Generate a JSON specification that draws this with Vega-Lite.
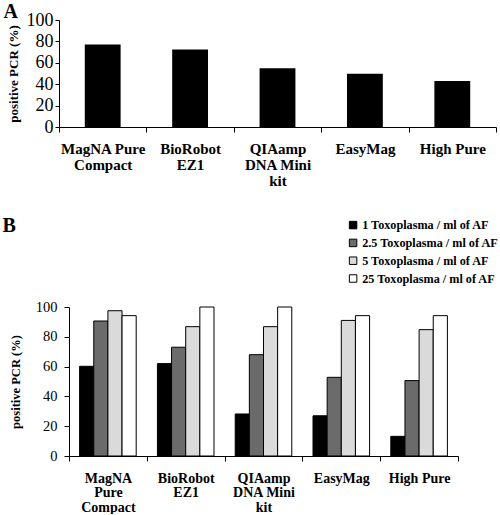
{
  "$schema": "https://vega.github.io/schema/vega-lite/v6.json",
  "background": "white",
  "padding": {"left": 2, "top": 2, "right": 0, "bottom": 0},
  "spacing": 28,
  "resolve": {"legend": {"color": "independent"}, "scale": {"color": "independent"}},
  "config": {
    "font": "Liberation Serif",
    "view": {"stroke": null},
    "axis": {"domainColor": "black", "tickColor": "black", "labelColor": "black", "titleColor": "black", "grid": false, "domainWidth": 1, "tickWidth": 1, "labelFont": "Liberation Serif", "titleFont": "Liberation Serif"},
    "title": {"font": "Liberation Serif", "fontSize": 20, "fontWeight": "bold", "anchor": "start", "color": "black"},
    "legend": {"labelFont": "Liberation Serif"}
  },
  "vconcat": [
    {
      "title": {"text": "A", "offset": -11, "dx": -4},
      "width": 437,
      "height": 107,
      "data": {"values": [
        {"kit": "MagNA Pure|Compact", "pct": 77.2},
        {"kit": "BioRobot|EZ1", "pct": 72.5},
        {"kit": "QIAamp|DNA Mini|kit", "pct": 55},
        {"kit": "EasyMag", "pct": 49.7},
        {"kit": "High Pure", "pct": 43.1}
      ]},
      "mark": {"type": "bar", "color": "black", "width": {"band": 0.41}},
      "encoding": {
        "x": {"field": "kit", "type": "nominal", "sort": null,
          "scale": {"paddingInner": 0, "paddingOuter": 0},
          "axis": {"title": null, "labelAngle": 0, "tickBand": "extent", "labelExpr": "split(datum.label,'|')", "labelFontSize": 15, "labelFontWeight": "bold", "labelLineHeight": 16, "labelPadding": 9, "tickSize": 5, "labelBaseline": "top", "labelLimit": 0}},
        "y": {"field": "pct", "type": "quantitative", "scale": {"domain": [0, 100]},
          "axis": {"values": [0, 20, 40, 60, 80, 100], "title": "positive PCR (%)", "titleFontSize": 13, "titleFontWeight": "bold", "labelFontSize": 18, "tickSize": 4, "labelPadding": 2, "titlePadding": 5.5}}
      }
    },
    {
      "resolve": {"legend": {"color": "independent"}, "scale": {"color": "independent"}},
      "title": {"text": "B", "offset": -17, "dx": -7},
      "width": 399,
      "height": 149,
      "data": {"values": [
        {"kit": "MagNA|Pure|Compact", "level": "1 Toxoplasma / ml of AF", "pct": 60.2},
        {"kit": "MagNA|Pure|Compact", "level": "2.5 Toxoplasma / ml of AF", "pct": 90.6},
        {"kit": "MagNA|Pure|Compact", "level": "5 Toxoplasma / ml of AF", "pct": 97.5},
        {"kit": "MagNA|Pure|Compact", "level": "25 Toxoplasma / ml of AF", "pct": 94.2},
        {"kit": "BioRobot|EZ1", "level": "1 Toxoplasma / ml of AF", "pct": 62},
        {"kit": "BioRobot|EZ1", "level": "2.5 Toxoplasma / ml of AF", "pct": 73},
        {"kit": "BioRobot|EZ1", "level": "5 Toxoplasma / ml of AF", "pct": 86.8},
        {"kit": "BioRobot|EZ1", "level": "25 Toxoplasma / ml of AF", "pct": 100},
        {"kit": "QIAamp|DNA Mini|kit", "level": "1 Toxoplasma / ml of AF", "pct": 28.2},
        {"kit": "QIAamp|DNA Mini|kit", "level": "2.5 Toxoplasma / ml of AF", "pct": 68},
        {"kit": "QIAamp|DNA Mini|kit", "level": "5 Toxoplasma / ml of AF", "pct": 86.8},
        {"kit": "QIAamp|DNA Mini|kit", "level": "25 Toxoplasma / ml of AF", "pct": 100},
        {"kit": "EasyMag", "level": "1 Toxoplasma / ml of AF", "pct": 27},
        {"kit": "EasyMag", "level": "2.5 Toxoplasma / ml of AF", "pct": 52.8},
        {"kit": "EasyMag", "level": "5 Toxoplasma / ml of AF", "pct": 91},
        {"kit": "EasyMag", "level": "25 Toxoplasma / ml of AF", "pct": 94.2},
        {"kit": "High Pure", "level": "1 Toxoplasma / ml of AF", "pct": 13.2},
        {"kit": "High Pure", "level": "2.5 Toxoplasma / ml of AF", "pct": 50.6},
        {"kit": "High Pure", "level": "5 Toxoplasma / ml of AF", "pct": 84.8},
        {"kit": "High Pure", "level": "25 Toxoplasma / ml of AF", "pct": 94.2}
      ]},
      "mark": {"type": "bar", "stroke": "black", "strokeWidth": 1},
      "encoding": {
        "x": {"field": "kit", "type": "nominal", "sort": null,
          "scale": {"range": [10, 399], "paddingInner": 0, "paddingOuter": 0},
          "axis": {"title": null, "labelAngle": 0, "tickBand": "extent", "labelExpr": "split(datum.label,'|')", "labelFontSize": 14, "labelFontWeight": "bold", "labelLineHeight": 14.5, "labelPadding": 10, "tickSize": 5, "labelBaseline": "top", "labelLimit": 0}},
        "xOffset": {"field": "level", "type": "nominal",
          "scale": {"domain": ["1 Toxoplasma / ml of AF", "2.5 Toxoplasma / ml of AF", "5 Toxoplasma / ml of AF", "25 Toxoplasma / ml of AF"], "paddingInner": 0, "paddingOuter": 0.75}},
        "y": {"field": "pct", "type": "quantitative", "scale": {"domain": [0, 100]},
          "axis": {"values": [0, 20, 40, 60, 80, 100], "offset": -10, "title": "positive PCR (%)", "titleFontSize": 12.5, "titleFontWeight": "bold", "labelFontSize": 14.5, "tickSize": 5, "labelPadding": 7, "titlePadding": 12.75}},
        "color": {"field": "level", "type": "nominal",
          "scale": {"domain": ["1 Toxoplasma / ml of AF", "2.5 Toxoplasma / ml of AF", "5 Toxoplasma / ml of AF", "25 Toxoplasma / ml of AF"], "range": ["#000000", "#6b6b6b", "#dadada", "#ffffff"]},
          "legend": {"orient": "none", "legendX": 288, "legendY": -88, "title": null, "symbolType": "square", "symbolSize": 56, "symbolStrokeColor": "black", "symbolStrokeWidth": 1, "symbolOpacity": 1, "labelFontSize": 12.2, "labelFontWeight": "bold", "labelColor": "black", "labelOffset": 3, "rowPadding": 4.8, "labelLimit": 0}}
      }
    }
  ]
}
